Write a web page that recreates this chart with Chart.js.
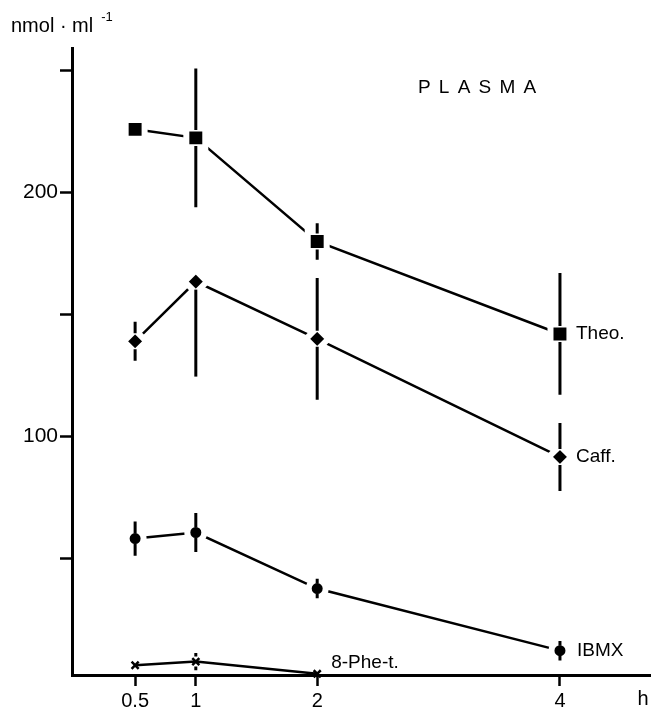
<!DOCTYPE html>
<html>
<head>
<meta charset="utf-8">
<script src="https://cdn.jsdelivr.net/npm/chart.js@4/dist/chart.umd.min.js"></script>
<style>
html, body { margin: 0; padding: 0; background: #fff; overflow: hidden; }
#wrap { width: 651px; height: 707px; position: relative; }
canvas { display: block; }
</style>
</head>
<body>
<div id="wrap"><canvas id="plasmaChart"></canvas></div>
<script>
// часы после введения
const hours = [0.5, 1, 2, 4]
const xTicks = [0.5, 1, 2, 4]
const xLabels = ['0.5', '1', '2', '4']
const yTicks = [50, 100, 150, 200, 250]

// nmol/ml
const theo = [226, 222.5, 180, 142]
const theoErrUp = [2, 28.5, 7.5, 25]
const theoErrDown = [2, 28.5, 7.5, 25]

const caff = [139, 163.5, 140, 91.5]
const caffErrUp = [8, 0, 25, 14]
const caffErrDown = [8, 39, 25, 14]

const ibmx = [58, 60.5, 37.5, 12]
const ibmxErrUp = [7, 8, 4, 4]
const ibmxErrDown = [7, 8, 4, 4]

const pheHours = [0.5, 1, 2]
const phe = [6, 7.5, 2.5]
const pheErrUp = [0, 3.5, 0]
const pheErrDown = [0, 3.5, 0]

const seriesNames = ['Theo.', 'Caff.', 'IBMX', '8-Phe-t.']

const FONT = '"Liberation Sans", Arial, sans-serif'
Chart.defaults.font.family = FONT
Chart.defaults.color = '#000'

function toPoints(xs, ys) {
    return ys.map((v, i) => ({x: xs[i], y: v}))
}

function makeSet(label, xs, ys, up, down, style, radius, gap) {
    return {
        label: label,
        data: toPoints(xs, ys),
        errUp: up,
        errDown: down,
        markGap: gap,
        borderColor: '#000',
        borderWidth: 2.5,
        backgroundColor: '#000',
        pointStyle: style,
        pointRadius: radius,
        pointBackgroundColor: '#000',
        pointBorderColor: style === 'crossRot' ? '#000' : '#fff',
        pointBorderWidth: style === 'crossRot' ? 2.5 : 6,
        showLine: true,
        clip: false
    }
}

// вертикальные "усы" рисуем поверх, с маленьким зазором у маркера
const errorBars = {
    id: 'errorBars',
    afterDatasetsDraw(chart) {
        const ctx = chart.ctx
        const yScale = chart.scales.y
        ctx.save()
        ctx.strokeStyle = '#000'
        ctx.lineWidth = 3
        ctx.lineCap = 'butt'
        chart.data.datasets.forEach((ds, i) => {
            const meta = chart.getDatasetMeta(i)
            meta.data.forEach((pt, j) => {
                const v = ds.data[j].y
                const top = yScale.getPixelForValue(v + ds.errUp[j])
                const bot = yScale.getPixelForValue(v - ds.errDown[j])
                ctx.beginPath()
                if (pt.y - top > ds.markGap) {
                    ctx.moveTo(pt.x, pt.y - ds.markGap)
                    ctx.lineTo(pt.x, top)
                }
                if (bot - pt.y > ds.markGap) {
                    ctx.moveTo(pt.x, pt.y + ds.markGap)
                    ctx.lineTo(pt.x, bot)
                }
                ctx.stroke()
            })
        })
        ctx.restore()
    }
}

// подписи серий, единицы, PLASMA и "h"
const textLabels = {
    id: 'textLabels',
    afterDraw(chart) {
        const ctx = chart.ctx
        ctx.save()
        ctx.fillStyle = '#000'
        ctx.textBaseline = 'middle'
        ctx.textAlign = 'left'
        ctx.font = '19px ' + FONT

        const offsets = [[16, 0], [16, 0], [17, 0], [14, -11]]
        chart.data.datasets.forEach((ds, i) => {
            const meta = chart.getDatasetMeta(i)
            const last = meta.data[meta.data.length - 1]
            ctx.fillText(seriesNames[i], last.x + offsets[i][0], last.y + offsets[i][1])
        })

        // PLASMA с разрядкой
        ctx.font = '19px ' + FONT
        let x = 418
        for (const ch of 'PLASMA') {
            ctx.fillText(ch, x, 88)
            x += ctx.measureText(ch).width + 8.2
        }

        // единицы по оси Y
        ctx.font = '20px ' + FONT
        ctx.fillText('nmol · ml', 11, 26)
        const w = ctx.measureText('nmol · ml').width
        ctx.font = '13px ' + FONT
        ctx.fillText('-1', 11 + w + 8, 17)

        ctx.font = '20px ' + FONT
        ctx.textAlign = 'center'
        ctx.fillText('h', 643, 699)
        ctx.restore()
    }
}

new Chart(document.getElementById('plasmaChart'), {
    type: 'scatter',
    data: {
        datasets: [
            makeSet('Theo.', hours, theo, theoErrUp, theoErrDown, 'rect', 13.4, 8),
            makeSet('Caff.', hours, caff, caffErrUp, caffErrDown, 'rectRot', 11.2, 8),
            makeSet('IBMX', hours, ibmx, ibmxErrUp, ibmxErrDown, 'circle', 8.5, 5),
            makeSet('8-Phe-t.', pheHours, phe, pheErrUp, pheErrDown, 'crossRot', 5, 5)
        ]
    },
    options: {
        responsive: true,
        maintainAspectRatio: false,
        animation: false,
        layout: {autoPadding: false, padding: {top: 48, right: 0, left: 0, bottom: 0}},
        plugins: {
            legend: {display: false},
            tooltip: {enabled: false}
        },
        scales: {
            x: {
                type: 'linear',
                min: -0.02,
                max: 4.75,
                border: {display: true, color: '#000', width: 3},
                grid: {display: true, drawOnChartArea: false, drawTicks: true,
                    tickLength: 11, tickColor: '#000', tickWidth: 2.5},
                afterBuildTicks: scale => { scale.ticks = xTicks.map(v => ({value: v})) },
                afterFit: scale => {
                    scale.height = 32
                    scale.paddingLeft = 0
                    scale.paddingRight = 0
                },
                ticks: {
                    padding: 3,
                    maxRotation: 0,
                    font: {size: 20},
                    callback: v => xLabels[xTicks.indexOf(v)]
                }
            },
            y: {
                min: 2,
                max: 259.4,
                border: {display: true, color: '#000', width: 3},
                grid: {display: true, drawOnChartArea: false, drawTicks: true,
                    tickLength: 12, tickColor: '#000', tickWidth: 2.5},
                afterBuildTicks: scale => { scale.ticks = yTicks.map(v => ({value: v})) },
                afterFit: scale => {
                    scale.width = 72
                    scale.paddingTop = 0
                    scale.paddingBottom = 0
                },
                ticks: {
                    padding: 2,
                    font: {size: 21},
                    callback: v => (v === 100 || v === 200) ? String(v) : ''
                }
            }
        }
    },
    plugins: [errorBars, textLabels]
})
</script>
</body>
</html>
